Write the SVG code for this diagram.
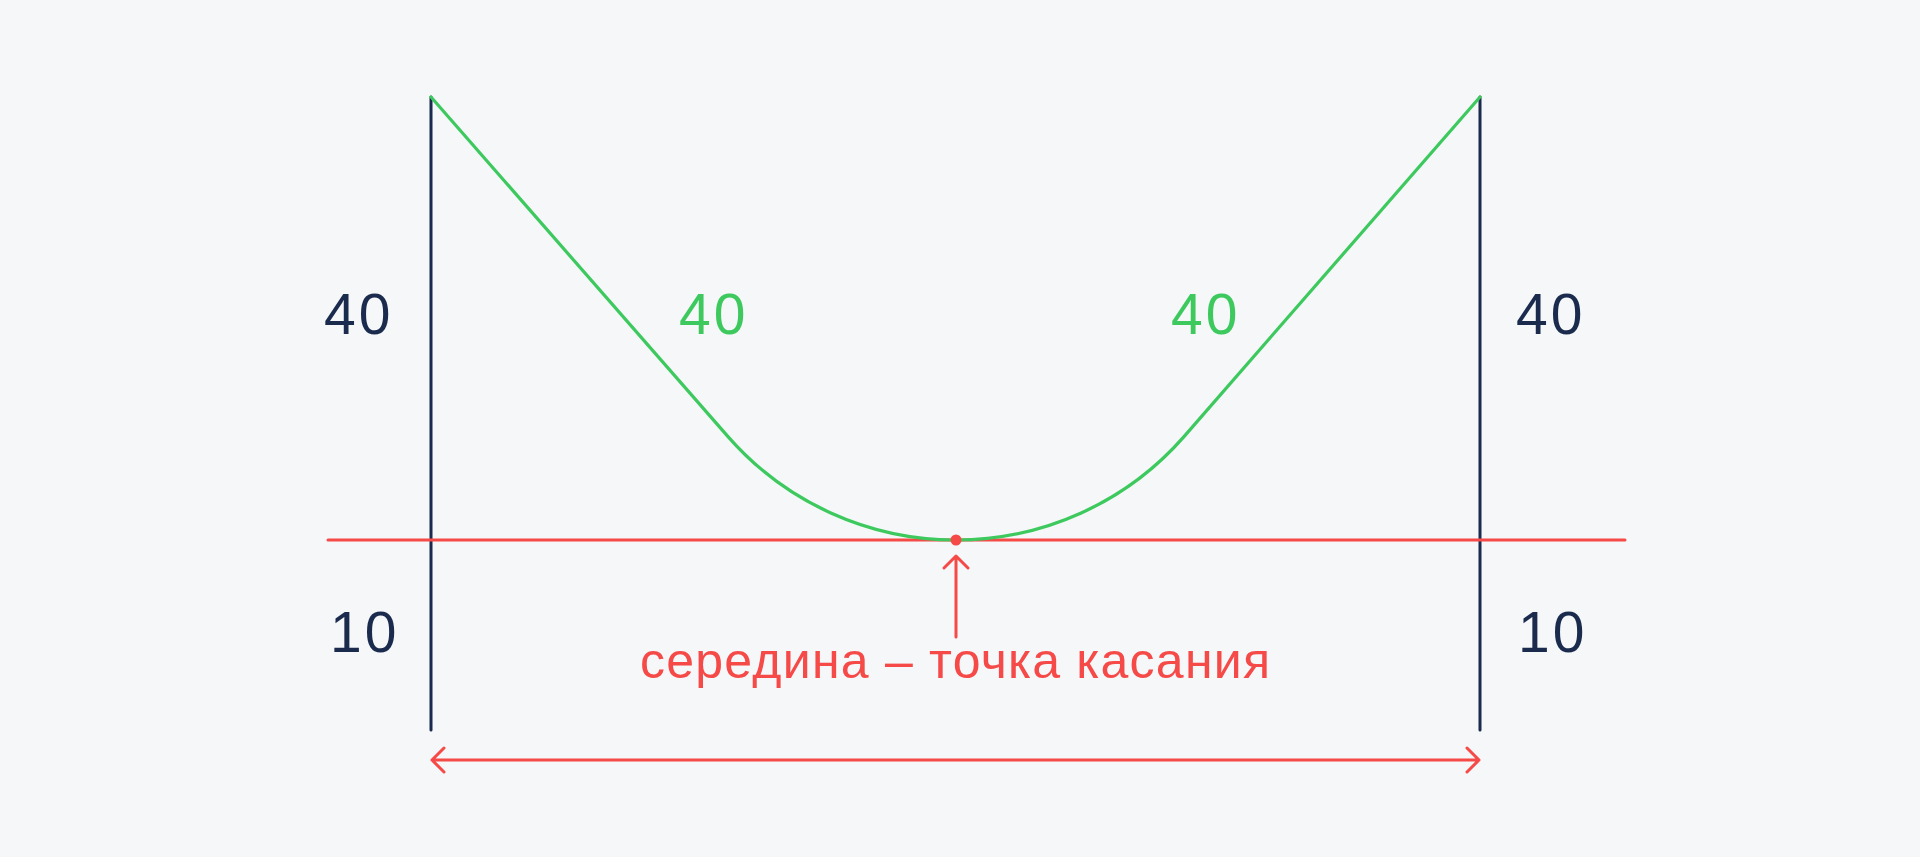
<svg xmlns="http://www.w3.org/2000/svg" width="1920" height="857" viewBox="0 0 1920 857">
<style>
.navy{stroke:#1b2b4d;stroke-width:3;fill:none;stroke-linecap:round}
.green{stroke:#3dc95e;stroke-width:3.2;fill:none;stroke-linecap:round}
.red{stroke:#f54a47;stroke-width:3;fill:none;stroke-linecap:round;stroke-linejoin:round}
.t{font-family:"Liberation Sans",Arial,sans-serif;font-size:57px;letter-spacing:3px}
.lbl{font-family:"Liberation Sans",Arial,sans-serif;font-size:50px;fill:#f54a47}
</style>
<rect width="1920" height="857" fill="#f5f7f9"/>
<g id="connectors">
<line class="navy" x1="431" y1="97" x2="431" y2="730"/>
<line class="navy" x1="1480" y1="97" x2="1480" y2="730"/>
<line class="red" x1="328" y1="540" x2="1625" y2="540"/>
<path class="green" d="M431,97 L728,436.6 A302.8,302.8 0 0 0 956,540 A302.8,302.8 0 0 0 1184,436.6 L1480,97"/>
<path class="red" d="M956,637 V556 M944,568 L956,556 L968,568"/>
<path class="red" d="M432,760 H1479 M444,748 L432,760 L444,772 M1467,748 L1479,760 L1467,772"/>
</g>
<g id="point"><circle cx="956" cy="540" r="5.5" fill="#f54a47"/></g>
<g id="labels">
<text class="t" x="324" y="334" fill="#1b2b4d">40</text>
<text class="t" x="679" y="334" fill="#3dc95e">40</text>
<text class="t" x="1171" y="334" fill="#3dc95e">40</text>
<text class="t" x="1516" y="334" fill="#1b2b4d">40</text>
<text class="t" x="330" y="652" fill="#1b2b4d">10</text>
<text class="t" x="1518" y="652" fill="#1b2b4d">10</text>
<text class="lbl" x="640" y="678" textLength="630" lengthAdjust="spacing">середина – точка касания</text>
</g>
</svg>
